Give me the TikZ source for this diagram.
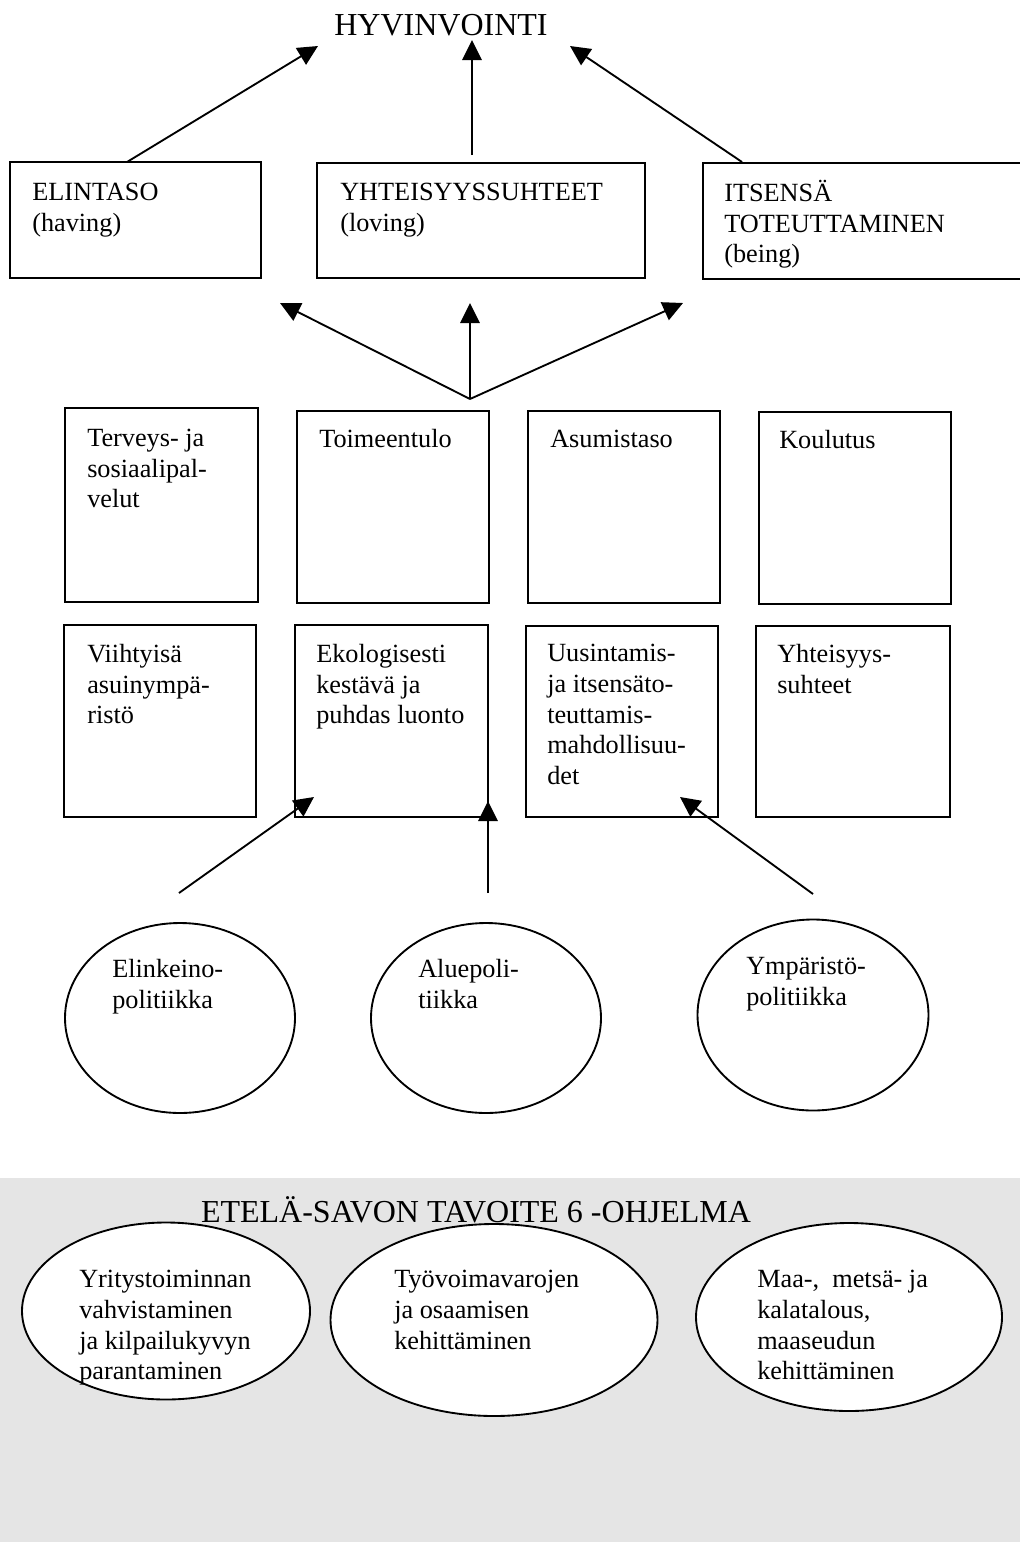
\documentclass[tikz,border=0pt]{standalone}
\usepackage{fontspec}
\setmainfont{Liberation Serif}
\usetikzlibrary{arrows.meta,fit,calc,shapes.geometric}
\begin{document}
\begin{tikzpicture}[x=0.75pt,y=-0.75pt,
  box/.style={draw, line width=1.4pt, inner sep=0pt},
  oval/.style={draw, ellipse, line width=1.4pt, inner sep=0pt},
  txt/.style={inner sep=0pt, anchor=north west, align=left, font=\fontsize{19.7}{23}\selectfont},
  big/.style={inner sep=0pt, anchor=base, font=\fontsize{24}{28}\selectfont},
  arr/.style={line width=1.4pt, -{Triangle[length=15pt,width=14.5pt]}}]
\useasboundingbox (0,0) rectangle (1020,1542);
\fill[black!10] (0,1178) rectangle (1020,1542);

% title
\node[big] (hyv) at (441,35) {HYVINVOINTI};

% row 1
\node[box, fit={(10,162) (261,278)}] (elintaso) {};
\node[box, fit={(317,163) (645,278)}] (yhteis) {};
\node[box, fit={(703,163) (1030,279)}] (itsensa) {};
\node[txt] (t1) at (32,183) {ELINTASO\\(having)};
\node[txt] (t2) at (340,183) {YHTEISYYSSUHTEET\\(loving)};
\node[txt] (t3) at (724,180) {ITSENSÄ\\TOTEUTTAMINEN\\(being)};

% top arrows
\coordinate (sL) at (127,162);
\coordinate (sM) at (472,155);
\coordinate (sR) at (742,162);
\coordinate (tipL) at (318,46);
\coordinate (tipM) at (472,40);
\coordinate (tipR) at (570,46);
\draw[arr] (sL) -- (tipL);
\draw[arr] (sM) -- (tipM);
\draw[arr] (sR) -- (tipR);

% fan arrows
\coordinate (fan) at (470,399);
\coordinate (fanL) at (280,303);
\coordinate (fanM) at (470,303);
\coordinate (fanR) at (683,303);
\draw[arr] (fan) -- (fanL);
\draw[arr] (fan) -- (fanM);
\draw[arr] (fan) -- (fanR);

% row 2
\node[box, fit={(65,408) (258,602)}] (terv) {};
\node[box, fit={(297,411) (489,603)}] (toim) {};
\node[box, fit={(528,411) (720,603)}] (asum) {};
\node[box, fit={(759,412) (951,604)}] (koul) {};
\node[txt] (t4) at (87,429) {Terveys- ja\\sosiaalipal-\\velut};
\node[txt] (t5) at (319,429) {Toimeentulo};
\node[txt] (t6) at (550,430) {Asumistaso};
\node[txt] (t7) at (779,430) {Koulutus};

% row 3
\node[box, fit={(64,625) (256,817)}] (viiht) {};
\node[box, fit={(295,625) (488,817)}] (ekol) {};
\node[box, fit={(526,626) (718,817)}] (uusi) {};
\node[box, fit={(756,626) (950,817)}] (yht2) {};
\node[txt] (t8) at (87,644) {Viihtyisä\\asuinympä-\\ristö};
\node[txt] (t9) at (316,644) {Ekologisesti\\kestävä ja\\puhdas luonto};
\node[txt] (t10) at (547,644) {Uusintamis-\\ja itsensäto-\\teuttamis-\\mahdollisuu-\\det};
\node[txt] (t11) at (777,644) {Yhteisyys-\\suhteet};

% bottom arrows
\coordinate (bL) at (179,893);
\coordinate (bM) at (488,893);
\coordinate (bR) at (813,894);
\coordinate (eL) at (314,797);
\coordinate (eM) at (488,801);
\coordinate (eR) at (680,797);
\draw[arr] (bL) -- (eL);
\draw[arr] (bM) -- (eM);
\draw[arr] (bR) -- (eR);

% policy circles
\node[oval, minimum width={230*0.75pt}, minimum height={190*0.75pt}] (elink) at (180,1018) {};
\node[oval, minimum width={230*0.75pt}, minimum height={190*0.75pt}] (alue) at (486,1018) {};
\node[oval, minimum width={231*0.75pt}, minimum height={191*0.75pt}] (ymp) at (813,1015) {};
\node[txt] (t12) at (112,959) {Elinkeino-\\politiikka};
\node[txt] (t13) at (418,959) {Aluepoli-\\tiikka};
\node[txt] (t14) at (746,957) {Ympäristö-\\politiikka};

% programme
\node[big] (ohj) at (476,1222) {ETELÄ-SAVON TAVOITE 6 -OHJELMA};
\node[oval, fill=white, minimum width={288*0.75pt}, minimum height={177*0.75pt}] (yrit) at (166,1311) {};
\node[oval, fill=white, minimum width={327*0.75pt}, minimum height={192*0.75pt}] (tyov) at (494,1320) {};
\node[oval, fill=white, minimum width={306*0.75pt}, minimum height={188*0.75pt}] (maa) at (849,1317) {};
\node[txt] (t15) at (79,1270) {Yritystoiminnan\\vahvistaminen\\ja kilpailukyvyn\\parantaminen};
\node[txt] (t16) at (394,1270) {Työvoimavarojen\\ja osaamisen\\kehittäminen};
\node[txt] (t17) at (757,1270) {Maa-,\ \ metsä- ja\\kalatalous,\\maaseudun\\kehittäminen};
\end{tikzpicture}
\end{document}
